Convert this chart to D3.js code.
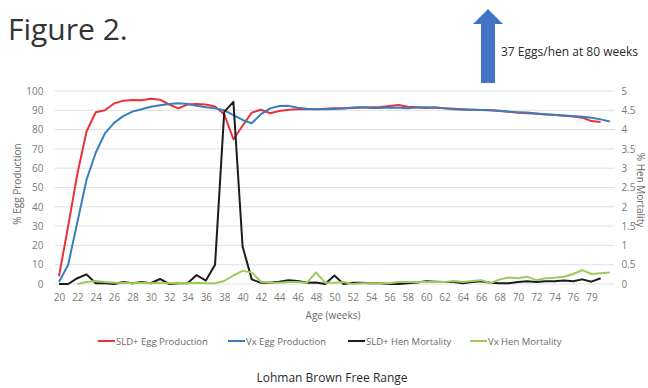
<!DOCTYPE html>
<html>
<head>
<meta charset="utf-8">
<script src="https://cdn.jsdelivr.net/npm/d3@7"></script>
<style>
  html, body { margin: 0; padding: 0; background: #ffffff; }
  svg { display: block; font-family: "Open Sans", "Noto Sans", sans-serif; }
</style>
</head>
<body>
<svg id="chart" width="648" height="388"></svg>
<script>
// Age of flock in weeks (one category per weekly record)
const weeks = [20,21,22,23,24,25,26,27,28,29,30,31,32,33,34,35,36,37,38,39,
  40,41,42,43,44,45,46,47,48,49,50,51,52,53,54,55,56,57,58,59,
  60,61,62,63,64,65,66,67,68,69,70,71,72,73,74,75,76,77,79,80,81];

// Category labels printed under the axis
const weekTicks = [20,22,24,26,28,30,32,34,36,38,40,42,44,46,48,50,52,54,56,58,
  60,62,64,66,68,70,72,74,76,79];

// % egg production, SLD+ flock
const sldEgg = [4,30,57,79,89,90,93.5,95,95.3,95.2,96,95.5,93,91,93,93.3,93,92,88,75,
  82,88.8,90.3,88.5,89.6,90.3,90.5,90.6,90.5,90.8,91,91,91.2,91.5,91.6,91.7,92.2,92.7,91.8,91.6,
  91.2,91.4,91.1,90.8,90.5,90.3,90.1,90,89.8,89.2,88.7,88.5,88.2,87.8,87.5,87.2,86.8,86.2,84.4,84,null];

// % egg production, Vx flock
const vxEgg = [1,10,32,54,68,78,83.5,87,89.3,90.5,91.8,92.6,93.3,93.6,93.3,92.3,91.6,91,90,87.5,
  85,83.3,88,91,92.2,92.3,91.3,90.8,90.5,90.6,90.7,90.9,91.4,91.6,91.2,91.2,91.5,91.3,91.1,91.4,
  91.6,91.5,91,90.6,90.3,90.3,90.2,90,89.6,89.3,89,88.8,88.4,88,87.7,87.3,87,86.6,86.1,85.3,84.2];

// % hen mortality, SLD+ flock
const sldMort = [0,0,0.15,0.25,0.02,0.02,0,0.05,0.02,0.05,0.02,0.13,0,0.02,0.02,0.23,0.09,0.5,4.46,4.72,
  0.97,0.12,0.03,0.03,0.06,0.1,0.08,0.03,0.04,0,0.22,0,0.03,0.03,0.02,0.02,0,0,0.02,0.04,
  0.07,0.06,0.05,0.05,0.02,0.05,0.07,0.03,0.02,0.02,0.05,0.07,0.05,0.07,0.07,0.09,0.07,0.12,0.06,0.15,null];

// % hen mortality, Vx flock
const vxMort = [null,null,0,0.05,0.08,0.05,0.03,0.03,0.02,0.03,0.02,0.03,0.02,0.03,0.02,0.03,0.02,0.02,0.08,0.22,
  0.34,0.3,0.06,0.03,0.03,0.05,0.05,0.03,0.3,0.03,0.03,0.05,0,0.02,0.02,0.02,0.02,0.05,0.05,0.05,
  0.05,0.05,0.05,0.08,0.05,0.08,0.1,0.02,0.12,0.17,0.15,0.19,0.1,0.15,0.16,0.19,0.26,0.36,0.26,0.28,0.3];

const eggTicks = [0,10,20,30,40,50,60,70,80,90,100];
const mortTicks = [0,0.5,1,1.5,2,2.5,3,3.5,4,4.5,5];

const series = [
  { name: "SLD+ Egg Production", values: sldEgg,  axis: "egg",  color: "#e6343a" },
  { name: "Vx Egg Production",   values: vxEgg,   axis: "egg",  color: "#3a7dbd" },
  { name: "SLD+ Hen Mortality",  values: sldMort, axis: "mort", color: "#1c1c1c" },
  { name: "Vx Hen Mortality",    values: vxMort,  axis: "mort", color: "#9ccb5c" }
];

const svg = d3.select("#chart");
const plot = { left: 54.4, right: 614.4, top: 91, bottom: 284 };

const x = d3.scalePoint().domain(weeks).range([plot.left, plot.right]).padding(0.5);
const yEgg = d3.scaleLinear().domain([0, 100]).range([plot.bottom, plot.top]);
const yMort = d3.scaleLinear().domain([0, 5]).range([plot.bottom, plot.top]);

// Title
svg.append("text").attr("x", 8).attr("y", 40)
  .attr("font-size", 30).attr("fill", "#333").text("Figure 2.");

// Up arrow with caption
const arrowX = 488;
svg.append("path")
  .attr("d", d3.line()([
    [arrowX, 9], [arrowX + 15, 24], [arrowX + 7, 24], [arrowX + 7, 83],
    [arrowX - 7, 83], [arrowX - 7, 24], [arrowX - 15, 24]
  ]) + "Z")
  .attr("fill", "#4472c4");
svg.append("text").attr("x", 501).attr("y", 56)
  .attr("font-size", 12).attr("fill", "#2b2b2b").text("37 Eggs/hen at 80 weeks");

// Horizontal gridlines
svg.append("g").selectAll("line").data(eggTicks).join("line")
  .attr("x1", plot.left).attr("x2", plot.right)
  .attr("y1", d => yEgg(d)).attr("y2", d => yEgg(d))
  .attr("stroke", "#e0e0e0").attr("stroke-width", 1);

// Left axis (egg production)
const leftAxis = svg.append("g").attr("transform", `translate(${plot.left - 11},0)`)
  .call(d3.axisLeft(yEgg).tickValues(eggTicks).tickSize(0).tickPadding(0));
leftAxis.select(".domain").remove();
leftAxis.selectAll("text").attr("font-size", 10).attr("fill", "#7a7a7a")
  .attr("font-family", "Open Sans, sans-serif");

// Right axis (hen mortality)
const rightAxis = svg.append("g").attr("transform", `translate(${plot.right + 7},0)`)
  .call(d3.axisRight(yMort).tickValues(mortTicks).tickSize(0).tickPadding(0)
    .tickFormat(d3.format("~g")));
rightAxis.select(".domain").remove();
rightAxis.selectAll("text").attr("font-size", 10).attr("fill", "#7a7a7a")
  .attr("font-family", "Open Sans, sans-serif");

// Bottom axis (age)
const bottomAxis = svg.append("g").attr("transform", `translate(0,${plot.bottom + 8})`)
  .call(d3.axisBottom(x).tickValues(weekTicks).tickSize(0).tickPadding(2));
bottomAxis.select(".domain").remove();
bottomAxis.selectAll("text").attr("font-size", 10).attr("fill", "#7a7a7a")
  .attr("font-family", "Open Sans, sans-serif");

// Axis titles
svg.append("text").attr("transform", "translate(21,184) rotate(-90)")
  .attr("text-anchor", "middle").attr("font-size", 10).attr("fill", "#6a6a6a")
  .text("% Egg Production");
svg.append("text").attr("transform", "translate(637,190) rotate(90)")
  .attr("text-anchor", "middle").attr("font-size", 10).attr("fill", "#6a6a6a")
  .text("% Hen Mortality");
svg.append("text").attr("x", 333).attr("y", 319)
  .attr("text-anchor", "middle").attr("font-size", 10).attr("fill", "#6a6a6a")
  .text("Age (weeks)");

// Data lines
series.forEach(s => {
  const y = s.axis === "egg" ? yEgg : yMort;
  const line = d3.line()
    .defined(d => d != null)
    .x((d, i) => x(weeks[i]))
    .y(d => y(d));
  svg.append("path")
    .datum(s.values)
    .attr("d", line)
    .attr("fill", "none")
    .attr("stroke", s.color)
    .attr("stroke-width", 2)
    .attr("stroke-linejoin", "round");
});

// Legend
const legendX = [98, 228, 348, 470];
const legend = svg.append("g").selectAll("g").data(series).join("g")
  .attr("transform", (d, i) => `translate(${legendX[i]},341)`);
legend.append("line").attr("x1", 0).attr("x2", 17).attr("y1", 0).attr("y2", 0)
  .attr("stroke", d => d.color).attr("stroke-width", 2);
legend.append("text").attr("x", 18).attr("y", 3.5)
  .attr("font-size", 9.5).attr("fill", "#6a6a6a").text(d => d.name);

// Caption
svg.append("text").attr("x", 332).attr("y", 382)
  .attr("text-anchor", "middle").attr("font-size", 12).attr("fill", "#2b2b2b")
  .text("Lohman Brown Free Range");
</script>
</body>
</html>
